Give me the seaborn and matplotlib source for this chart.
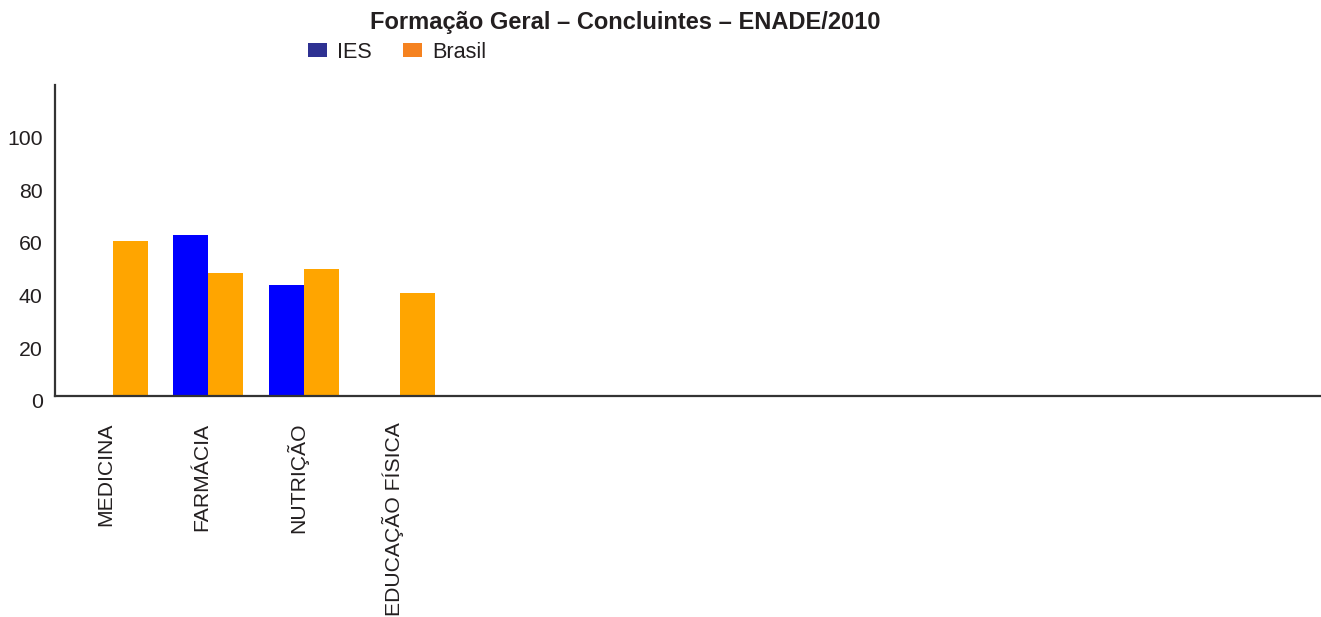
import matplotlib
matplotlib.use("Agg")
import matplotlib.pyplot as plt
import matplotlib.transforms as mtransforms
from matplotlib.patches import Patch
import seaborn as sns
import pandas as pd
import numpy as np

sns.set_theme(style="white")
plt.rcParams['font.family'] = ['Liberation Sans', 'DejaVu Sans']

categories = ["MEDICINA", "FARMÁCIA", "NUTRIÇÃO", "EDUCAÇÃO FÍSICA"]
extra_slots = [" " * (i + 1) for i in range(9)]
ies = [np.nan, 61, 42, np.nan]
brasil = [59, 46.6, 48.1, 39]
series_names = ["IES", "Brasil"]
bar_colors = ["#0000ff", "#ffa500"]
legend_colors = ["#2e3192", "#f58220"]
title = "Formação Geral – Concluintes – ENADE/2010"

rows = []
for c, a, b in zip(categories, ies, brasil):
    rows.append({"cat": c, "serie": "IES", "val": a})
    rows.append({"cat": c, "serie": "Brasil", "val": b})
df = pd.DataFrame(rows)

fig = plt.figure(figsize=(13.21, 6.17), dpi=100)
ax = fig.add_axes([55/1321, 221/617, 1 - 55/1321, 311/617])

order = categories + extra_slots
sns.barplot(data=df, x="cat", y="val", hue="serie", order=order,
            hue_order=series_names, palette=bar_colors, width=0.73,
            saturation=1, ax=ax, legend=False, errorbar=None, linewidth=0)

ax.set_xlim(-0.6, 12.6)
ax.set_ylim(0, 118)
ax.set_yticks([0, 20, 40, 60, 80, 100])
ax.set_xlabel("")
ax.set_ylabel("")
for s in ["top", "right"]:
    ax.spines[s].set_visible(False)
for s in ["left", "bottom"]:
    ax.spines[s].set_color("#333333")
    ax.spines[s].set_linewidth(1.6)
text_color = "#231f20"
ax.tick_params(axis="y", length=0, pad=9, labelsize=15.3, labelcolor=text_color)
ax.tick_params(axis="x", length=0, pad=19, labelsize=15.2, labelcolor=text_color)
for lbl in ax.get_yticklabels():
    lbl.set_transform(lbl.get_transform() + mtransforms.ScaledTranslation(0, -5/100, fig.dpi_scale_trans))
for lbl in ax.get_xticklabels():
    lbl.set_rotation(90)
    lbl.set_va("top")
    lbl.set_ha("center")
    lbl.set_transform(lbl.get_transform() + mtransforms.ScaledTranslation(-7/100, 0, fig.dpi_scale_trans))

fig.text(625/1321, 1 - 22/617, title, ha="center", va="center",
         fontsize=17, fontweight="bold", color=text_color)

handles = [Patch(facecolor=c, edgecolor="none") for c in legend_colors]
fig.legend(handles, series_names, loc="center left",
           bbox_to_anchor=(308/1321, 1 - 52/617), ncol=2, frameon=False,
           borderpad=0, borderaxespad=0, handlelength=0.87, handleheight=0.6,
           handletextpad=0.46, columnspacing=1.47, fontsize=15.6,
           labelcolor=text_color)

fig.savefig("out.png", dpi=100, facecolor="white")
